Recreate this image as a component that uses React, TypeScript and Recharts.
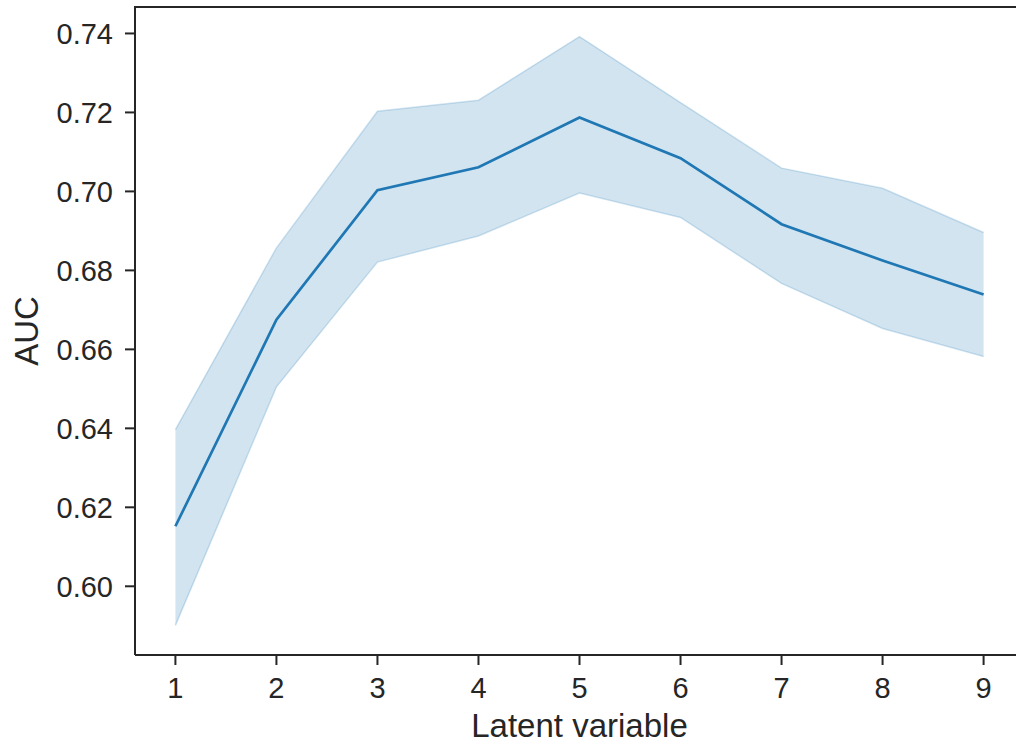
import React from 'react';
import { ComposedChart, Area, Line, XAxis, YAxis } from 'recharts';

const latent = [1, 2, 3, 4, 5, 6, 7, 8, 9];
const aucMean = [0.6152, 0.6675, 0.7003, 0.7061, 0.7187, 0.7084, 0.6917, 0.6825, 0.6739];
const aucLow = [0.5901, 0.6505, 0.6821, 0.6887, 0.6996, 0.6934, 0.6767, 0.6653, 0.6582];
const aucHigh = [0.6397, 0.6857, 0.7203, 0.7231, 0.7392, 0.7225, 0.7059, 0.7008, 0.6896];

const xTicks = [1, 2, 3, 4, 5, 6, 7, 8, 9];
const yTicks = [0.6, 0.62, 0.64, 0.66, 0.68, 0.7, 0.72, 0.74];

const X_DOMAIN = [0.6, 9.4];
const Y_DOMAIN = [0.5826, 0.7467];

const data = latent.map((x, i) => ({
    x,
    mean: aucMean[i],
    band: [aucLow[i], aucHigh[i]],
}));

const FONT = '"Liberation Sans", Arial, Helvetica, sans-serif';
const INK = '#262626';
const BLUE = '#1f77b4';

const W = 1040;
const H = 744;
const M = { top: 7, right: 16, left: 0, bottom: 0 };
const Y_W = 135;
const X_H = 89;

const tickStyle = { fontSize: 29, fill: INK, fontFamily: FONT };
const axisLine = { stroke: INK, strokeWidth: 2 };

export default function App() {
    const plotLeft = M.left + Y_W;
    const plotRight = W - M.right;
    const plotTop = M.top;
    const plotBottom = H - M.bottom - X_H;
    const yMid = (plotTop + plotBottom) / 2;

    return (
        <div style={{ position: 'fixed', left: 0, top: 0, width: 1016, height: 744, overflow: 'hidden', background: '#fff' }}>
            <ComposedChart width={W} height={H} data={data} margin={M}>
                <XAxis
                    dataKey="x"
                    type="number"
                    domain={X_DOMAIN}
                    ticks={xTicks}
                    height={X_H}
                    tick={tickStyle}
                    tickSize={10}
                    tickMargin={12}
                    tickLine={axisLine}
                    axisLine={axisLine}
                />
                <YAxis
                    type="number"
                    domain={Y_DOMAIN}
                    ticks={yTicks}
                    width={Y_W}
                    tick={tickStyle}
                    tickSize={10}
                    tickMargin={12}
                    tickLine={axisLine}
                    axisLine={axisLine}
                    tickFormatter={(v: number) => v.toFixed(2)}
                    allowDataOverflow
                />
                <Area
                    dataKey="band"
                    type="linear"
                    fill={BLUE}
                    fillOpacity={0.2}
                    stroke={BLUE}
                    strokeOpacity={0.2}
                    strokeWidth={1.5}
                    isAnimationActive={false}
                />
                <Line
                    dataKey="mean"
                    type="linear"
                    stroke={BLUE}
                    strokeWidth={2.7}
                    dot={false}
                    activeDot={false}
                    isAnimationActive={false}
                />
            </ComposedChart>
            <svg width={W} height={H} style={{ position: 'absolute', left: 0, top: 0, pointerEvents: 'none' }}>
                <line x1={plotLeft - 1} x2={plotRight} y1={plotTop} y2={plotTop} stroke={INK} strokeWidth={2} />
                <text
                    x={(plotLeft + plotRight) / 2}
                    y={737}
                    textAnchor="middle"
                    fontSize={33}
                    fill={INK}
                    fontFamily={FONT}
                >
                    Latent variable
                </text>
                <text
                    x={38}
                    y={yMid}
                    transform={`rotate(-90 38 ${yMid})`}
                    textAnchor="middle"
                    fontSize={33}
                    fill={INK}
                    fontFamily={FONT}
                >
                    AUC
                </text>
            </svg>
        </div>
    );
}
